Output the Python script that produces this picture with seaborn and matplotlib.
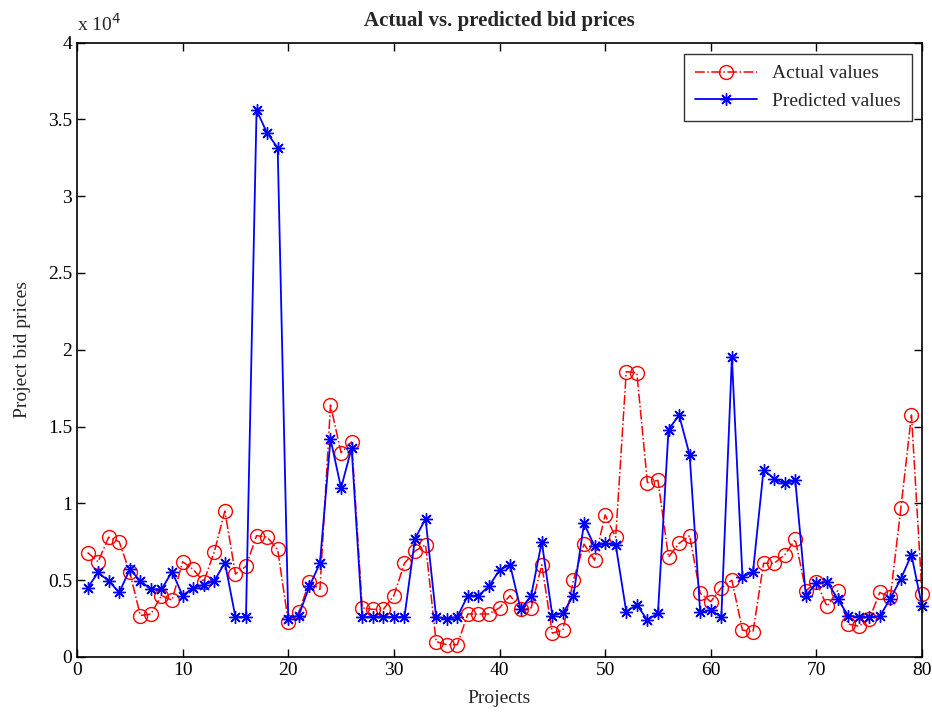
import numpy as np
import pandas as pd
import matplotlib
matplotlib.use('Agg')
import matplotlib.pyplot as plt
import seaborn as sns

# bid prices in units of 10^4
projects = list(range(1, 81))
actual = [0.68, 0.62, 0.78, 0.75, 0.55, 0.27, 0.28, 0.40, 0.37, 0.62,
          0.57, 0.49, 0.685, 0.95, 0.54, 0.59, 0.79, 0.78, 0.70, 0.23,
          0.29, 0.49, 0.44, 1.64, 1.33, 1.40, 0.32, 0.31, 0.31, 0.40,
          0.61, 0.69, 0.73, 0.10, 0.08, 0.08, 0.28, 0.28, 0.28, 0.32,
          0.40, 0.31, 0.32, 0.60, 0.155, 0.175, 0.50, 0.735, 0.63, 0.925,
          0.78, 1.857, 1.85, 1.135, 1.15, 0.65, 0.74, 0.79, 0.415, 0.36,
          0.45, 0.50, 0.175, 0.165, 0.61, 0.61, 0.665, 0.765, 0.43, 0.49,
          0.33, 0.43, 0.215, 0.20, 0.245, 0.42, 0.39, 0.97, 1.575, 0.41]
predicted = [0.45, 0.55, 0.495, 0.42, 0.57, 0.495, 0.44, 0.44, 0.555, 0.40,
             0.45, 0.47, 0.495, 0.615, 0.26, 0.26, 3.56, 3.41, 3.315, 0.25,
             0.27, 0.46, 0.61, 1.42, 1.10, 1.36, 0.26, 0.26, 0.26, 0.26,
             0.26, 0.77, 0.90, 0.26, 0.25, 0.26, 0.40, 0.40, 0.46, 0.566,
             0.60, 0.31, 0.40, 0.75, 0.27, 0.285, 0.40, 0.87, 0.72, 0.74,
             0.73, 0.295, 0.34, 0.24, 0.285, 1.48, 1.575, 1.315, 0.29, 0.305,
             0.26, 1.95, 0.52, 0.555, 1.22, 1.16, 1.13, 1.15, 0.40, 0.48,
             0.49, 0.38, 0.27, 0.26, 0.26, 0.265, 0.38, 0.51, 0.665, 0.33]

df = pd.DataFrame({'Projects': projects, 'Actual': actual, 'Predicted': predicted})

sns.set_style('ticks')
plt.rcParams['font.family'] = ['Liberation Serif', 'DejaVu Serif']

fig = plt.figure(figsize=(9.32, 7.17), dpi=100)
ax = fig.add_axes([0.0826, 0.0837, 0.9067, 0.857])

sns.lineplot(data=df, x='Projects', y='Actual', ax=ax, color='red', linestyle='-.',
             linewidth=1.1, marker='o', markersize=10, markerfacecolor='none',
             markeredgecolor='red', markeredgewidth=1.0, label='Actual values',
             clip_on=False)
sns.lineplot(data=df, x='Projects', y='Predicted', ax=ax, color='blue', linestyle='-',
             linewidth=1.3, marker=(8, 2, 0), markersize=9, markeredgecolor='blue',
             markeredgewidth=1.0, label='Predicted values', clip_on=False)

ax.set_xlim(0, 80)
ax.set_ylim(0, 4)
ax.set_xticks(np.arange(0, 81, 10))
ax.set_yticks(np.arange(0, 4.01, 0.5))
ax.set_yticklabels(['0', '0.5', '1', '1.5', '2', '2.5', '3', '3.5', '4'])
ax.tick_params(direction='in', top=True, right=True, length=6, width=1,
               labelsize=14, colors='black')
for s in ax.spines.values():
    s.set_visible(True)
    s.set_linewidth(1.2)
    s.set_color('black')

ax.set_xlabel('Projects', fontsize=14, labelpad=8)
ax.set_ylabel('Project bid prices', fontsize=14, labelpad=12)
ax.set_title('Actual vs. predicted bid prices', fontsize=15, fontweight='bold', pad=12)
ax.text(0.0, 1.012, r'x 10$^4$', transform=ax.transAxes, fontsize=14, va='bottom')

leg = ax.legend(loc='upper right', fontsize=14, frameon=True, fancybox=False,
                edgecolor='black', borderpad=0.55, handlelength=3.2,
                borderaxespad=0, bbox_to_anchor=(0.988, 0.981))
leg.get_frame().set_linewidth(1.0)

fig.savefig('out.png', dpi=100)
